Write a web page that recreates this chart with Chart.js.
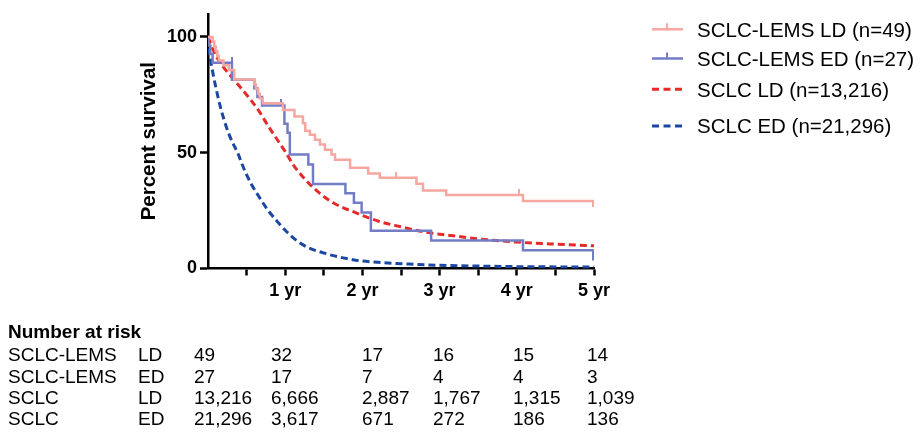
<!DOCTYPE html>
<html><head><meta charset="utf-8">
<script src="https://cdn.jsdelivr.net/npm/chart.js@4.4.0/dist/chart.umd.min.js"></script>
<style>
html,body{margin:0;padding:0;background:#fff;}
#wrap{position:relative;width:921px;height:432px;overflow:hidden;font-family:"Liberation Sans",Arial,sans-serif;color:#000;background:#fff;}
#c{position:absolute;left:0;top:0;}
.t{position:absolute;white-space:nowrap;font-size:19px;line-height:20px;}
.lg{position:absolute;white-space:nowrap;font-size:20.5px;line-height:22px;}
svg{position:absolute;left:0;top:0;}
</style></head><body>
<div id="wrap">
<canvas id="c" width="921" height="432"></canvas>
<svg id="lgs" width="921" height="432"></svg>
</div>
<script>
// ---------- data ----------
const seriesNames = ['SCLC-LEMS LD (n=49)', 'SCLC-LEMS ED (n=27)', 'SCLC LD (n=13,216)', 'SCLC ED (n=21,296)'];

// SCLC-LEMS LD (Kaplan-Meier steps): time (yr), survival (%)
const lemsLdT = [0, 0.06, 0.08, 0.10, 0.12, 0.14, 0.20, 0.27, 0.34, 0.60, 0.62, 0.65, 0.67, 0.71, 0.97, 1.12, 1.23, 1.26, 1.32, 1.385, 1.45, 1.515, 1.60, 1.645, 1.84, 2.075, 2.225, 2.70, 2.785, 3.085, 4.08, 4.99];
const lemsLdS = [100, 98, 95.9, 93.9, 91.8, 89.8, 87.8, 85.7, 81.6, 79.6, 77.5, 75.5, 73.4, 71.4, 68.5, 65.6, 62.7, 59.5, 57.8, 55.6, 53.5, 51.3, 49.2, 47.0, 43.5, 41.0, 39.2, 36.6, 33.7, 31.7, 29.2, 26.6];
const lemsLdCensorT = [2.44, 4.03];
const lemsLdCensorS = [39.2, 31.7];

// SCLC-LEMS ED (Kaplan-Meier steps)
const lemsEdT = [0, 0.01, 0.03, 0.06, 0.31, 0.60, 0.64, 0.70, 0.99, 1.03, 1.06, 1.30, 1.36, 1.78, 1.89, 1.99, 2.11, 2.89, 4.08, 4.99];
const lemsEdS = [100, 96.3, 92.6, 88.9, 81.5, 77.8, 74.1, 70.4, 62.5, 58.6, 49.2, 44.9, 36.5, 32.5, 28.4, 24.2, 16.3, 12.1, 7.9, 3.5];
const lemsEdCensorT = [0.31, 0.95];
const lemsEdCensorS = [88.9, 70.4];

// SCLC LD (population curve)
const sclcLdT = [0, 0.1, 0.2, 0.35, 0.5, 0.65, 0.8, 0.9, 1.0, 1.1, 1.23, 1.4, 1.62, 1.92, 2.2, 2.5, 2.8, 3.2, 3.5, 4.0, 4.5, 5.0];
const sclcLdS = [100, 92, 87, 81, 75, 68.5, 60.5, 55.5, 50.5, 45, 39.5, 33.8, 28.4, 24, 20.5, 18, 15.8, 14, 12.8, 11.4, 10.5, 9.8];

// SCLC ED (population curve)
const sclcEdT = [0, 0.02, 0.06, 0.1, 0.155, 0.21, 0.26, 0.31, 0.39, 0.46, 0.56, 0.67, 0.78, 0.89, 1.0, 1.15, 1.3, 1.54, 1.75, 1.93, 2.2, 2.6, 3.1, 3.6, 4.0, 4.5, 5.0];
const sclcEdS = [100, 93, 85, 78.5, 70.5, 64, 59, 55, 49.5, 43.5, 36.5, 30.5, 25, 20.6, 16.5, 12, 9, 6.3, 4.6, 3.5, 2.7, 1.9, 1.3, 1.0, 0.8, 0.7, 0.6];

// axes
const xTickValues = [1, 2, 3, 4, 5];
const yTickValues = [0, 50, 100];

// number at risk table
const riskTitle = 'Number at risk';
const riskGroup = ['SCLC-LEMS', 'SCLC-LEMS', 'SCLC', 'SCLC'];
const riskStage = ['LD', 'ED', 'LD', 'ED'];
const riskCounts = [
  ['49', '32', '17', '16', '15', '14'],
  ['27', '17', '7', '4', '4', '3'],
  ['13,216', '6,666', '2,887', '1,767', '1,315', '1,039'],
  ['21,296', '3,617', '671', '272', '186', '136']
];

// ---------- styling ----------
const PINK = '#F5A7A0', PERI = '#727DC6', RED = '#E62A2A', NAVY = '#1B47A2';
const FONT = '"Liberation Sans", Arial, sans-serif';

const toXY = (ts, ss) => ts.map((t, i) => ({x: t, y: ss[i]}));
function tickImg(color) {
  const c = document.createElement('canvas');
  c.width = 2; c.height = 12;
  const g = c.getContext('2d');
  g.fillStyle = color; g.fillRect(0, 0, 2, 6);
  return c;
}

const ctx = document.getElementById('c').getContext('2d');
new Chart(ctx, {
  type: 'line',
  data: {
    datasets: [
      {label: seriesNames[0], data: toXY(lemsLdT, lemsLdS), stepped: true, borderColor: PINK, borderWidth: 2.5, pointRadius: 0, fill: false},
      {label: seriesNames[0] + ' censored', data: toXY(lemsLdCensorT, lemsLdCensorS), showLine: false, pointStyle: tickImg(PINK), pointRadius: 6, borderColor: PINK},
      {label: seriesNames[1], data: toXY(lemsEdT, lemsEdS), stepped: true, borderColor: PERI, borderWidth: 2.5, pointRadius: 0, fill: false},
      {label: seriesNames[1] + ' censored', data: toXY(lemsEdCensorT, lemsEdCensorS), showLine: false, pointStyle: tickImg(PERI), pointRadius: 6, borderColor: PERI},
      {label: seriesNames[2], data: toXY(sclcLdT, sclcLdS), borderColor: RED, borderWidth: 3, borderDash: [7, 4], cubicInterpolationMode: 'monotone', pointRadius: 0, fill: false},
      {label: seriesNames[3], data: toXY(sclcEdT, sclcEdS), borderColor: NAVY, borderWidth: 3, borderDash: [7, 4], cubicInterpolationMode: 'monotone', pointRadius: 0, fill: false}
    ]
  },
  options: {
    responsive: false,
    animation: false,
    devicePixelRatio: 1,
    layout: {padding: {left: 136, top: 11, right: 327, bottom: 123.5}},
    plugins: {legend: {display: false}, tooltip: {enabled: false}},
    scales: {
      x: {
        type: 'linear', min: 0, max: 5,
        afterFit: s => { s.height = 40; },
        afterBuildTicks: s => { s.ticks = [0,0.5,1,1.5,2,2.5,3,3.5,4,4.5,5].map(v => ({value: v})); },
        ticks: {
          autoSkip: false, maxRotation: 0, padding: 5, color: '#000',
          font: {family: FONT, size: 18, weight: 'bold'},
          callback: v => xTickValues.includes(v) ? v + ' yr' : ''
        },
        grid: {drawOnChartArea: false, drawTicks: true, tickLength: 7, tickWidth: 2.5,
               tickColor: c => (c.tick && c.tick.value === 0) ? 'rgba(0,0,0,0)' : '#000'},
        border: {display: true, color: '#000', width: 2.5}
      },
      y: {
        min: 0, max: 110,
        afterFit: s => { s.width = 72; },
        afterBuildTicks: s => { s.ticks = yTickValues.map(v => ({value: v})); },
        ticks: {padding: 3, color: '#000', font: {family: FONT, size: 18, weight: 'bold'}},
        grid: {drawOnChartArea: false, drawTicks: true, tickLength: 8, tickWidth: 2.5, tickColor: '#000'},
        border: {display: true, color: '#000', width: 2.5},
        title: {display: true, text: 'Percent survival', color: '#000', padding: {top: 1, bottom: 0},
                font: {family: FONT, size: 20.5, weight: 'bold'}}
      }
    }
  }
});

// ---------- legend ----------
const wrap = document.getElementById('wrap');
const svg = document.getElementById('lgs');
const NS = 'http://www.w3.org/2000/svg';
const lgRows = [29.3, 58.5, 89.3, 126];
const lgStyle = [
  {c: PINK, dash: null, tick: true, w: 2.5},
  {c: PERI, dash: null, tick: true, w: 2.5},
  {c: RED, dash: '7 4.5', tick: false, w: 3},
  {c: NAVY, dash: '7 4.5', tick: false, w: 3}
];
seriesNames.forEach((name, i) => {
  const y = lgRows[i], st = lgStyle[i];
  const ln = document.createElementNS(NS, 'line');
  ln.setAttribute('x1', 652); ln.setAttribute('x2', 683);
  ln.setAttribute('y1', y); ln.setAttribute('y2', y);
  ln.setAttribute('stroke', st.c); ln.setAttribute('stroke-width', st.w);
  if (st.dash) ln.setAttribute('stroke-dasharray', st.dash);
  svg.appendChild(ln);
  if (st.tick) {
    const tk = document.createElementNS(NS, 'line');
    tk.setAttribute('x1', 667); tk.setAttribute('x2', 667);
    tk.setAttribute('y1', y - 6); tk.setAttribute('y2', y);
    tk.setAttribute('stroke', st.c); tk.setAttribute('stroke-width', 2);
    svg.appendChild(tk);
  }
  const d = document.createElement('div');
  d.className = 'lg'; d.textContent = name;
  d.style.left = '697px'; d.style.top = (y - 10.8) + 'px';
  wrap.appendChild(d);
});

// ---------- number at risk ----------
function addText(txt, x, cy, bold) {
  const d = document.createElement('div');
  d.className = 't'; d.textContent = txt;
  d.style.left = x + 'px'; d.style.top = (cy - 9.8) + 'px';
  if (bold) d.style.fontWeight = 'bold';
  wrap.appendChild(d);
}
addText(riskTitle, 8, 331.5, true);
const rowY = [355, 376.5, 397.5, 418.5];
const colX = [194, 271, 362, 433, 513, 587];
riskGroup.forEach((g, r) => {
  addText(g, 8, rowY[r]);
  addText(riskStage[r], 138, rowY[r]);
  riskCounts[r].forEach((v, c) => addText(v, colX[c], rowY[r]));
});
</script>
</body></html>
